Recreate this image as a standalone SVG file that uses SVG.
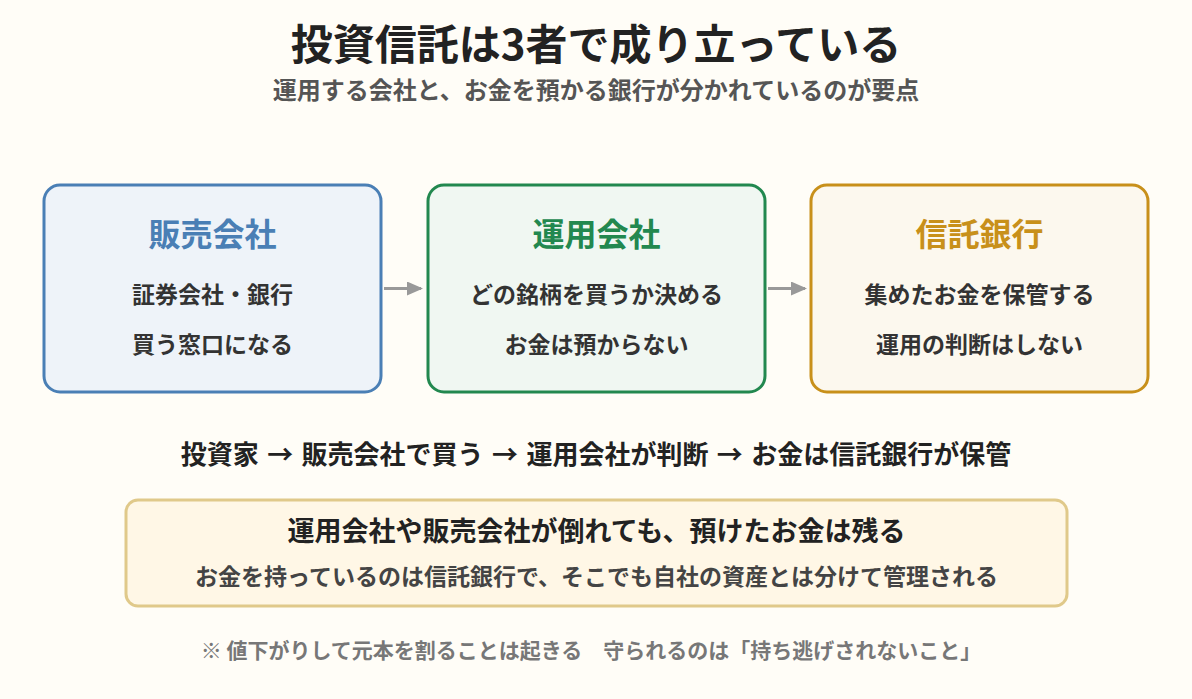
<svg xmlns="http://www.w3.org/2000/svg" width="1192" height="699" viewBox="0 0 1192 699">
<style>
text{font-family:"Noto Sans CJK JP","Noto Sans",sans-serif;text-anchor:middle;font-weight:700}
.title{font-size:42px;fill:#222}
.sub{font-size:24px;fill:#555}
.nt{font-size:32px}
.nl{font-size:23px;fill:#333}
.flow{font-size:26px;fill:#222;word-spacing:2.5px}
.b1{font-size:27px;fill:#222}
.b2{font-size:23px;fill:#444}
.foot{font-size:21px;fill:#777}
.conn{stroke:#999;stroke-width:3;fill:none}
</style>
<defs>
<marker id="ah" markerWidth="16" markerHeight="14" refX="14" refY="7" orient="auto" markerUnits="userSpaceOnUse" viewBox="0 0 16 14"><path d="M0,0 L16,7 L0,14 z" fill="#999"/></marker>
</defs>
<rect width="1192" height="699" fill="#fffdf7"/>
<text class="title" x="596" y="60">投資信託は3者で成り立っている</text>
<text class="sub" x="596" y="99">運用する会社と、お金を預かる銀行が分かれているのが要点</text>
<g id="node-hanbai">
<rect x="44" y="185" width="337" height="207" rx="16" fill="#eef3f9" stroke="#4a7fb5" stroke-width="3"/>
<text class="nt" x="212.5" y="246" fill="#4a7fb5">販売会社</text>
<text class="nl" x="212.5" y="303">証券会社・銀行</text>
<text class="nl" x="212.5" y="353">買う窓口になる</text>
</g>
<g id="node-unyo">
<rect x="428" y="185" width="337" height="207" rx="16" fill="#f0f7f2" stroke="#22884f" stroke-width="3"/>
<text class="nt" x="596.5" y="246" fill="#22884f">運用会社</text>
<text class="nl" x="596.5" y="303">どの銘柄を買うか決める</text>
<text class="nl" x="596.5" y="353">お金は預からない</text>
</g>
<g id="node-shintaku">
<rect x="811" y="185" width="337" height="207" rx="16" fill="#fcf8ee" stroke="#c8901a" stroke-width="3"/>
<text class="nt" x="979.5" y="246" fill="#c8901a">信託銀行</text>
<text class="nl" x="979.5" y="303">集めたお金を保管する</text>
<text class="nl" x="979.5" y="353">運用の判断はしない</text>
</g>
<g id="connectors">
<line class="conn" x1="384" y1="288.5" x2="421" y2="288.5" marker-end="url(#ah)"/>
<line class="conn" x1="768" y1="288.5" x2="805" y2="288.5" marker-end="url(#ah)"/>
</g>
<text class="flow" x="596" y="464">投資家 → 販売会社で買う → 運用会社が判断 → お金は信託銀行が保管</text>
<g id="note">
<rect x="126" y="500" width="941" height="106" rx="12" fill="#fff7e6" stroke="#e0c98a" stroke-width="3"/>
<text class="b1" x="596.5" y="541">運用会社や販売会社が倒れても、預けたお金は残る</text>
<text class="b2" x="596.5" y="585">お金を持っているのは信託銀行で、そこでも自社の資産とは分けて管理される</text>
</g>
<text class="foot" x="591" y="658">※ 値下がりして元本を割ることは起きる　守られるのは「持ち逃げされないこと」</text>
</svg>
